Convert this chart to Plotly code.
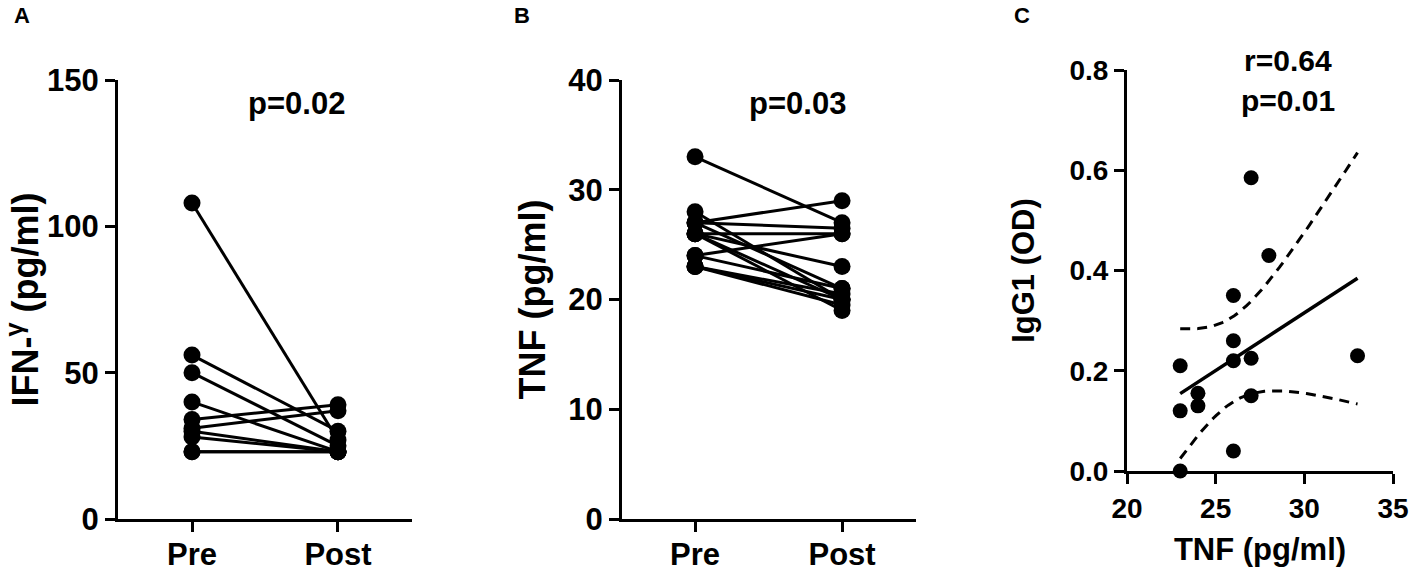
import numpy as np
import plotly.graph_objects as go

# --- data ---
groups = ["Pre", "Post"]

ifn_pre = [108, 56, 50, 40, 34, 31, 30, 28, 23, 23]
ifn_post = [27, 30, 25, 23, 39, 37, 23, 23, 23, 23]

tnf_pre = [33, 28, 27, 27, 27, 26, 26, 26, 26, 24, 24, 23, 23, 23]
tnf_post = [27, 20, 29, 26.5, 21, 26, 23, 20, 19, 26, 21, 20.5, 20, 19.5]

corr_tnf = [23, 23, 23, 24, 24, 26, 26, 26, 26, 27, 27, 27, 28, 33]
corr_igg1 = [0.21, 0.12, 0.0, 0.155, 0.13, 0.35, 0.26, 0.22, 0.04, 0.585, 0.225, 0.15, 0.43, 0.23]

W, H = 1411, 573
FONT = "Liberation Sans, Arial, Helvetica, sans-serif"


def px_x(p):
    return p / W


def px_y(p):
    return 1 - p / H


def paired(pre, post):
    xs, ys = [], []
    for a, b in zip(pre, post):
        xs += [groups[0], groups[1], None]
        ys += [a, b, None]
    return xs, ys


fig = go.Figure()

# A - IFN-gamma before/after
xs, ys = paired(ifn_pre, ifn_post)
fig.add_trace(go.Scatter(x=xs, y=ys, mode="lines+markers", xaxis="x", yaxis="y",
                         line=dict(color="black", width=3),
                         marker=dict(color="black", size=17), cliponaxis=False))

# B - TNF before/after
xs, ys = paired(tnf_pre, tnf_post)
fig.add_trace(go.Scatter(x=xs, y=ys, mode="lines+markers", xaxis="x2", yaxis="y2",
                         line=dict(color="black", width=3),
                         marker=dict(color="black", size=17), cliponaxis=False))

# C - correlation with linear fit and 95% CI
x = np.array(corr_tnf, dtype=float)
y = np.array(corr_igg1, dtype=float)
n = len(x)
slope, intercept = np.polyfit(x, y, 1)
resid = y - (slope * x + intercept)
s = np.sqrt((resid ** 2).sum() / (n - 2))
sxx = ((x - x.mean()) ** 2).sum()
t_crit = 2.179  # t(0.975, df=12)
xf = np.linspace(x.min(), x.max(), 60)
yf = slope * xf + intercept
half = t_crit * s * np.sqrt(1 / n + (xf - x.mean()) ** 2 / sxx)

fig.add_trace(go.Scatter(x=xf, y=yf + half, mode="lines", xaxis="x3", yaxis="y3",
                         line=dict(color="black", width=3, dash="10px,7px")))
fig.add_trace(go.Scatter(x=xf, y=yf - half, mode="lines", xaxis="x3", yaxis="y3",
                         line=dict(color="black", width=3, dash="10px,7px")))
fig.add_trace(go.Scatter(x=xf, y=yf, mode="lines", xaxis="x3", yaxis="y3",
                         line=dict(color="black", width=3.5)))
fig.add_trace(go.Scatter(x=corr_tnf, y=corr_igg1, mode="markers", xaxis="x3", yaxis="y3",
                         marker=dict(color="black", size=15), cliponaxis=False))

axis_common = dict(showline=True, linecolor="black", linewidth=3, showgrid=False,
                   zeroline=False, ticks="outside", ticklen=10, tickwidth=3,
                   tickcolor="black", automargin=False)
big_tick = dict(family=FONT, size=31, color="black", weight="bold")
cat_tick = dict(family=FONT, size=31, color="black", weight="bold")
small_tick = dict(family=FONT, size=28, color="black", weight="bold")
big_title = dict(family=FONT, size=36, color="black", weight="bold")
small_title = dict(family=FONT, size=31, color="black", weight="bold")

fig.update_layout(
    template="none",
    width=W, height=H,
    margin=dict(l=0, r=0, t=0, b=0),
    paper_bgcolor="white", plot_bgcolor="white",
    showlegend=False,
    font=dict(family=FONT, color="black", weight="bold"),
    xaxis=dict(domain=[px_x(118), px_x(412)], type="category", categoryarray=groups,
               range=[-0.507, 1.507], tickfont=cat_tick, ticklabelstandoff=-4,
               anchor="y", **axis_common),
    yaxis=dict(domain=[px_y(519), px_y(80)], range=[0, 150], tickvals=[0, 50, 100, 150],
               tickfont=big_tick, anchor="x",
               title=dict(text="IFN-<sup>γ</sup> (pg/ml)", font=big_title, standoff=12),
               **axis_common),
    xaxis2=dict(domain=[px_x(622), px_x(916)], type="category", categoryarray=groups,
                range=[-0.497, 1.503], tickfont=cat_tick, ticklabelstandoff=-4,
                anchor="y2", **axis_common),
    yaxis2=dict(domain=[px_y(519), px_y(80)], range=[0, 40], tickvals=[0, 10, 20, 30, 40],
                tickfont=big_tick, anchor="x2",
                title=dict(text="TNF (pg/ml)", font=big_title, standoff=12),
                **axis_common),
    xaxis3=dict(domain=[px_x(1127), px_x(1393)], range=[20, 35], tickvals=[20, 25, 30, 35],
                tickfont=small_tick, anchor="y3",
                title=dict(text="TNF (pg/ml)", font=small_title, standoff=16),
                **axis_common),
    yaxis3=dict(domain=[px_y(471), px_y(70)], range=[0, 0.8],
                tickvals=[0, 0.2, 0.4, 0.6, 0.8], ticktext=["0.0", "0.2", "0.4", "0.6", "0.8"],
                tickfont=small_tick, anchor="x3",
                title=dict(text="IgG1 (OD)", font=small_title, standoff=26),
                **axis_common),
)

notes = [
    ("A", 22, 16, 22),
    ("B", 522, 16, 22),
    ("C", 1022, 16, 22),
    ("p=0.02", 296, 103, 31),
    ("p=0.03", 797, 103, 31),
    ("r=0.64", 1288, 60, 30),
    ("p=0.01", 1288, 100, 30),
]
for text, nx, ny, size in notes:
    fig.add_annotation(x=px_x(nx), y=px_y(ny), xref="paper", yref="paper",
                       text=text, showarrow=False, xanchor="center", yanchor="middle",
                       font=dict(family=FONT, size=size, color="black", weight="bold"))

# drop the default page margin so the figure sits at the window's corner
fig.write_html("out.html", config={"displayModeBar": False},
               post_script="document.body.style.margin = '0';")
